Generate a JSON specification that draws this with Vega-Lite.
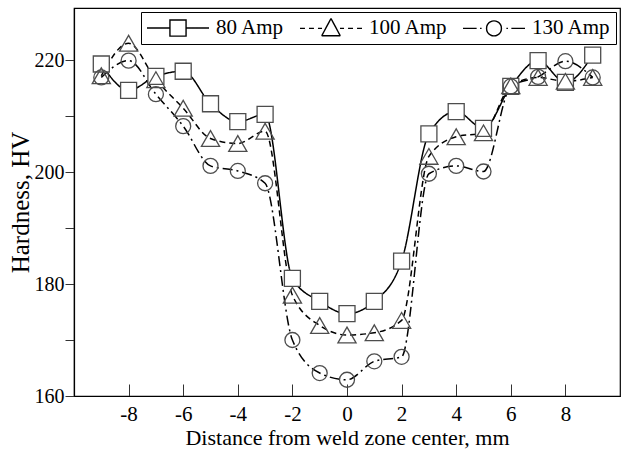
{
  "$schema": "https://vega.github.io/schema/vega-lite/v6.json",
  "width": 546,
  "height": 388,
  "autosize": "none",
  "padding": {"left": 74, "top": 8, "right": 2, "bottom": 60},
  "background": "white",
  "config": {
    "font": "Liberation Serif",
    "view": {"stroke": "black", "strokeWidth": 1.2},
    "axis": {
      "grid": false,
      "domainColor": "black",
      "domainWidth": 1.2,
      "tickColor": "#333",
      "tickWidth": 1,
      "labelColor": "black",
      "titleColor": "black",
      "labelFont": "Liberation Serif",
      "titleFont": "Liberation Serif",
      "labelFontSize": 21,
      "titleFontSize": 22,
      "titleFontWeight": "normal"
    }
  },
  "data": {
    "values": [
      {"series": "80 Amp", "x": -9, "hv": 219.3},
      {"series": "80 Amp", "x": -8, "hv": 214.6},
      {"series": "80 Amp", "x": -7, "hv": 217.1},
      {"series": "80 Amp", "x": -6, "hv": 218.0},
      {"series": "80 Amp", "x": -5, "hv": 212.2},
      {"series": "80 Amp", "x": -4, "hv": 209.0},
      {"series": "80 Amp", "x": -3, "hv": 210.3},
      {"series": "80 Amp", "x": -2, "hv": 181.0},
      {"series": "80 Amp", "x": -1, "hv": 176.9},
      {"series": "80 Amp", "x": 0, "hv": 174.7},
      {"series": "80 Amp", "x": 1, "hv": 176.9},
      {"series": "80 Amp", "x": 2, "hv": 184.1},
      {"series": "80 Amp", "x": 3, "hv": 206.8},
      {"series": "80 Amp", "x": 4, "hv": 210.8},
      {"series": "80 Amp", "x": 5, "hv": 207.8},
      {"series": "80 Amp", "x": 6, "hv": 215.3},
      {"series": "80 Amp", "x": 7, "hv": 219.9},
      {"series": "80 Amp", "x": 8, "hv": 216.0},
      {"series": "80 Amp", "x": 9, "hv": 220.9},
      {"series": "100 Amp", "x": -9, "hv": 217.2},
      {"series": "100 Amp", "x": -8, "hv": 223.0},
      {"series": "100 Amp", "x": -7, "hv": 216.5},
      {"series": "100 Amp", "x": -6, "hv": 211.4},
      {"series": "100 Amp", "x": -5, "hv": 206.0},
      {"series": "100 Amp", "x": -4, "hv": 205.1},
      {"series": "100 Amp", "x": -3, "hv": 207.3},
      {"series": "100 Amp", "x": -2, "hv": 178.0},
      {"series": "100 Amp", "x": -1, "hv": 172.6},
      {"series": "100 Amp", "x": 0, "hv": 170.9},
      {"series": "100 Amp", "x": 1, "hv": 171.3},
      {"series": "100 Amp", "x": 2, "hv": 173.5},
      {"series": "100 Amp", "x": 3, "hv": 202.8},
      {"series": "100 Amp", "x": 4, "hv": 206.3},
      {"series": "100 Amp", "x": 5, "hv": 207.0},
      {"series": "100 Amp", "x": 6, "hv": 215.4},
      {"series": "100 Amp", "x": 7, "hv": 216.9},
      {"series": "100 Amp", "x": 8, "hv": 216.2},
      {"series": "100 Amp", "x": 9, "hv": 216.9},
      {"series": "130 Amp", "x": -9, "hv": 216.9},
      {"series": "130 Amp", "x": -8, "hv": 219.9},
      {"series": "130 Amp", "x": -7, "hv": 213.9},
      {"series": "130 Amp", "x": -6, "hv": 208.2},
      {"series": "130 Amp", "x": -5, "hv": 201.1},
      {"series": "130 Amp", "x": -4, "hv": 200.2},
      {"series": "130 Amp", "x": -3, "hv": 198.0},
      {"series": "130 Amp", "x": -2, "hv": 170.0},
      {"series": "130 Amp", "x": -1, "hv": 164.1},
      {"series": "130 Amp", "x": 0, "hv": 162.9},
      {"series": "130 Amp", "x": 1, "hv": 166.2},
      {"series": "130 Amp", "x": 2, "hv": 167.0},
      {"series": "130 Amp", "x": 3, "hv": 199.7},
      {"series": "130 Amp", "x": 4, "hv": 201.1},
      {"series": "130 Amp", "x": 5, "hv": 200.1},
      {"series": "130 Amp", "x": 6, "hv": 215.3},
      {"series": "130 Amp", "x": 7, "hv": 217.0},
      {"series": "130 Amp", "x": 8, "hv": 219.8},
      {"series": "130 Amp", "x": 9, "hv": 216.9}
    ]
  },
  "encoding": {
    "x": {
      "field": "x",
      "type": "quantitative",
      "scale": {"domain": [-10, 10], "nice": false, "zero": false},
      "axis": {
        "values": [-8, -6, -4, -2, 0, 2, 4, 6, 8],
        "labelExpr": "'' + datum.value",
        "tickSize": -12,
        "labelPadding": 19,
        "title": "Distance from weld zone center, mm",
        "titlePadding": 3
      }
    },
    "y": {
      "field": "hv",
      "type": "quantitative",
      "scale": {"domain": [160, 229.3], "nice": false, "zero": false},
      "axis": {
        "values": [160, 170, 180, 190, 200, 210, 220],
        "labelExpr": "datum.value % 20 === 0 ? '' + datum.value : ''",
        "labelFontSize": 20,
        "tickSize": 9,
        "labelPadding": 1,
        "title": "Hardness, HV",
        "titleFontSize": 25,
        "titlePadding": 1
      }
    }
  },
  "layer": [
    {
      "mark": {"type": "line", "interpolate": "monotone", "color": "black", "strokeWidth": 1.5},
      "encoding": {
        "strokeDash": {
          "field": "series",
          "type": "nominal",
          "scale": {"domain": ["80 Amp", "100 Amp", "130 Amp"], "range": [[1, 0], [6, 4], [10, 4, 2, 4]]},
          "legend": {
            "title": null,
            "orient": "top-right",
            "direction": "horizontal",
            "offset": 4,
            "padding": 5,
            "strokeColor": "black",
            "fillColor": "white",
            "symbolSize": 400,
            "symbolStrokeWidth": 1.4,
            "symbolStrokeColor": "black",
            "labelFont": "Liberation Serif",
            "labelFontSize": 21,
            "labelColor": "black",
            "labelOffset": 48,
            "columnPadding": 12,
            "encode": {
              "symbols": {
                "update": {
                  "shape": {"signal": "datum.value === '80 Amp' ? 'M-1,0H1.294M2.906,0H5.2M1.294,-0.806H2.906V0.806H1.294Z' : datum.value === '100 Amp' ? 'M-1,0H-0.504M-0.101,0H0.395M0.798,0H1.201M1.17,0.744L1.4025,0.31M1.4025,0.31L1.635,-0.124M1.635,-0.124L1.8675,-0.558M1.8675,-0.558L2.1,-0.992M2.1,-0.992L2.3325,-0.558M2.3325,-0.558L2.565,-0.124M2.565,-0.124L2.7975,0.31M2.7975,0.31L3.03,0.744M3.03,0.744L2.565,0.744M2.565,0.744L2.1,0.744M2.1,0.744L1.635,0.744M1.635,0.744L1.17,0.744M2.999,0H3.402M3.805,0H4.301M4.704,0H5.2' : 'M-1,0H-0.318M-0.318,0H0.364M0.705,0H0.86M2.844,0A0.744,0.744 0 0 1 2.472,0.644M2.472,0.644A0.744,0.744 0 0 1 1.728,0.644M1.728,0.644A0.744,0.744 0 0 1 1.356,0M1.356,0A0.744,0.744 0 0 1 1.728,-0.644M1.728,-0.644A0.744,0.744 0 0 1 2.472,-0.644M2.472,-0.644A0.744,0.744 0 0 1 2.844,0M3.34,0H3.495M3.836,0H4.518M4.518,0H5.2'"},
                  "size": {"value": 400},
                  "stroke": {"value": "black"},
                  "fill": {"value": "transparent"},
                  "opacity": {"value": 1}
                }
              }
            }
          }
        }
      }
    },
    {
      "transform": [{"filter": "datum.series === '80 Amp'"}],
      "mark": {"type": "point", "shape": "square", "size": 256, "filled": true, "fill": "white", "stroke": "#4d4d4d", "strokeWidth": 1.3, "opacity": 1}
    },
    {
      "transform": [{"filter": "datum.series === '100 Amp'"}],
      "mark": {"type": "point", "shape": "triangle-up", "size": 330, "filled": true, "fill": "transparent", "stroke": "#4d4d4d", "strokeWidth": 1.3, "opacity": 1}
    },
    {
      "transform": [{"filter": "datum.series === '130 Amp'"}],
      "mark": {"type": "point", "shape": "circle", "size": 225, "filled": true, "fill": "transparent", "stroke": "#4d4d4d", "strokeWidth": 1.3, "opacity": 1}
    }
  ]
}
